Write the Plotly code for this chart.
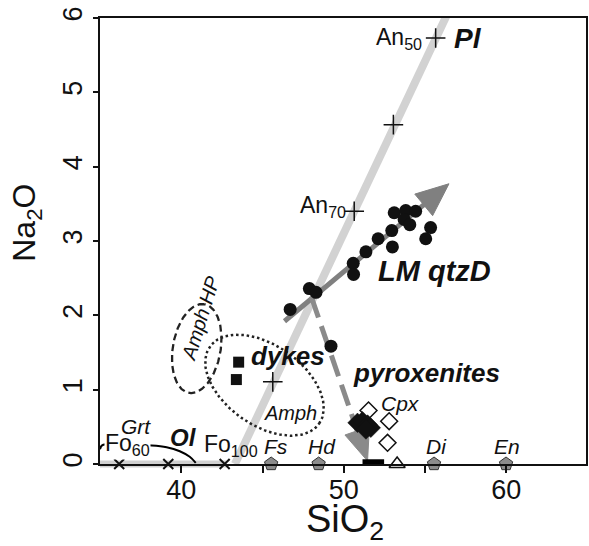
import numpy as np
import plotly.graph_objects as go

# ---------------- data (SiO2 wt%, Na2O wt%) ----------------
# LM quartz-diorite whole-rock analyses
lm_sio2 = [46.70, 47.88, 48.29, 49.21, 50.58, 50.60, 51.36, 52.11, 52.95,
           52.99, 53.10, 53.81, 54.42, 53.71, 54.06, 55.34, 55.04]
lm_na2o = [2.08, 2.36, 2.31, 1.585, 2.70, 2.55, 2.855, 3.03, 3.14,
           2.92, 3.38, 3.41, 3.40, 3.29, 3.22, 3.18, 3.03]

# dykes
dyke_sio2 = [43.53, 43.39]
dyke_na2o = [1.37, 1.136]

# pyroxenites
pyx_sio2 = [50.84, 51.15, 51.46, 51.66, 51.36]
pyx_na2o = [0.554, 0.576, 0.531, 0.487, 0.464]

# clinopyroxene analyses
cpx_sio2 = [51.52, 52.79, 52.69]
cpx_na2o = [0.72, 0.576, 0.285]

# plagioclase join and compositions along it (An50, An60, An70, An90)
pl_line_sio2 = [43.3, 56.9]
pl_line_na2o = [0.0, 6.3]
pl_sio2 = [55.65, 53.05, 50.64, 45.63]
pl_na2o = [5.73, 4.565, 3.40, 1.105]

# olivine join (Fo60 ... Fo100)
ol_line_sio2 = [35.0, 42.8]
ol_sio2 = [36.18, 39.2, 42.67]
ol_na2o = [0.0, 0.0, 0.0]

# garnet field boundary
grt_sio2 = [35.0, 35.15, 36.5, 38.18, 39.10, 39.91, 40.52, 40.89]
grt_na2o = [0.20, 0.255, 0.255, 0.249, 0.226, 0.172, 0.097, 0.016]

# pyroxene end-members (Fs, Hd, Di, En)
em_names = ["Fs", "Hd", "Di", "En"]
em_sio2 = [45.53, 48.45, 55.55, 59.98]
em_na2o = [0.0, 0.0, 0.0, 0.0]

# orthopyroxene range and other phase
opx_sio2 = [51.15, 52.48]
opx_na2o = [0.03, 0.03]
tri_sio2 = [53.28]
tri_na2o = [0.0]

# trends: LM differentiation and pyroxenite accumulation
lm_trend_sio2 = [46.35, 56.47]
lm_trend_na2o = [1.92, 3.77]
pyx_trend_sio2 = [48.0, 51.46]
pyx_trend_na2o = [2.25, 0.04]

# amphibole fields: centre (SiO2, Na2O)
amph_hp_centre = (40.95, 1.553)
amph_centre = (45.12, 1.06)

x_ticks = [40, 50, 60]
x_minor_ticks = [45, 55]
y_ticks = [0, 1, 2, 3, 4, 5, 6]

# ---------------- layout geometry ----------------
W, H = 589, 546
ML, MR, MT, MB = 100, 1, 18, 82
XR = [35, 64.9]
YR = [0, 6]
SX = (W - ML - MR) / (XR[1] - XR[0])   # px per SiO2 unit
SY = (H - MT - MB) / (YR[1] - YR[0])   # px per Na2O unit

FONT = "Arial, Liberation Sans, sans-serif"


def ellipse(centre, a_px, b_px, angle_deg, n=200):
    """Ellipse outline with semi-axes given in screen pixels."""
    t = np.linspace(0, 2 * np.pi, n)
    th = np.radians(angle_deg)
    ex = a_px * np.cos(t)
    ey = b_px * np.sin(t)
    rx = ex * np.cos(th) - ey * np.sin(th)
    ry = ex * np.sin(th) + ey * np.cos(th)
    return centre[0] + rx / SX, centre[1] + ry / SY


def arrow_head(xs, ys, length_px, width_px):
    """Triangle head at the end of a trend, plus the shortened shaft."""
    dx = (xs[1] - xs[0]) * SX
    dy = (ys[1] - ys[0]) * SY
    d = np.hypot(dx, dy)
    ux, uy = dx / d, dy / d
    nx, ny = -uy, ux
    bx = xs[1] - ux * length_px / SX
    by = ys[1] - uy * length_px / SY
    hx = [xs[1], bx + nx * width_px / 2 / SX, bx - nx * width_px / 2 / SX, xs[1]]
    hy = [ys[1], by + ny * width_px / 2 / SY, by - ny * width_px / 2 / SY, ys[1]]
    shaft_x = [xs[0], xs[1] - ux * (length_px * 0.6) / SX]
    shaft_y = [ys[0], ys[1] - uy * (length_px * 0.6) / SY]
    return shaft_x, shaft_y, hx, hy


fig = go.Figure()

# olivine join: a band straddling the Na2O = 0 axis
band_half = 3.5 / (H - MT - MB)
fig.add_shape(type="rect", xref="x", yref="paper",
              x0=ol_line_sio2[0], x1=ol_line_sio2[1], y0=-band_half, y1=band_half,
              fillcolor="#d0d0d0", line=dict(width=0), layer="below")

# plagioclase join
fig.add_trace(go.Scatter(x=pl_line_sio2, y=pl_line_na2o, mode="lines",
                         line=dict(color="#d2d2d2", width=8)))

# garnet boundary
fig.add_trace(go.Scatter(x=grt_sio2, y=grt_na2o, mode="lines",
                         line=dict(color="black", width=2, shape="spline")))

# amphibole fields
ex, ey = ellipse(amph_hp_centre, 45, 24, 80)
fig.add_trace(go.Scatter(x=ex, y=ey, mode="lines",
                         line=dict(color="#222", width=2.3, dash="7px,4px")))
ex, ey = ellipse(amph_centre, 67, 40, -35)
fig.add_trace(go.Scatter(x=ex, y=ey, mode="lines",
                         line=dict(color="#222", width=2.5, dash="2.5px,2.8px")))

# trends
sx_, sy_, hx, hy = arrow_head(lm_trend_sio2, lm_trend_na2o, 33, 28)
fig.add_trace(go.Scatter(x=sx_, y=sy_, mode="lines",
                         line=dict(color="#808080", width=5)))
fig.add_trace(go.Scatter(x=hx, y=hy, mode="lines", fill="toself",
                         fillcolor="#808080", line=dict(color="#808080", width=1)))
sx_, sy_, hx, hy = arrow_head(pyx_trend_sio2, pyx_trend_na2o, 32, 26)
fig.add_trace(go.Scatter(x=sx_, y=sy_, mode="lines",
                         line=dict(color="#8a8a8a", width=5, dash="22px,9px")))
fig.add_trace(go.Scatter(x=hx, y=hy, mode="lines", fill="toself",
                         fillcolor="#8a8a8a", line=dict(color="#8a8a8a", width=1)))

# Opx range
fig.add_trace(go.Scatter(x=opx_sio2, y=opx_na2o, mode="lines",
                         line=dict(color="black", width=5)))

# plagioclase compositions
fig.add_trace(go.Scatter(x=pl_sio2, y=pl_na2o, mode="markers",
                         marker=dict(symbol="cross-thin", size=14,
                                     line=dict(color="#111", width=1.5))))
# olivine compositions
fig.add_trace(go.Scatter(x=ol_sio2, y=ol_na2o, mode="markers", cliponaxis=False,
                         marker=dict(symbol="x-thin", size=10,
                                     line=dict(color="#111", width=2))))
# pyroxene end-members
fig.add_trace(go.Scatter(x=em_sio2, y=em_na2o, mode="markers", cliponaxis=False,
                         marker=dict(symbol="pentagon", size=14, color="#8c8c8c",
                                     line=dict(color="#333", width=1))))
fig.add_trace(go.Scatter(x=tri_sio2, y=tri_na2o, mode="markers", cliponaxis=False,
                         marker=dict(symbol="triangle-up-open", size=14, color="#111",
                                     line=dict(color="#111", width=1.5))))
# clinopyroxene
fig.add_trace(go.Scatter(x=cpx_sio2, y=cpx_na2o, mode="markers",
                         marker=dict(symbol="diamond", size=13, color="white",
                                     line=dict(color="#111", width=1.5))))
# pyroxenites
fig.add_trace(go.Scatter(x=pyx_sio2, y=pyx_na2o, mode="markers",
                         marker=dict(symbol="diamond", size=15, color="#111",
                                     line=dict(color="#111", width=0.5))))
# dykes
fig.add_trace(go.Scatter(x=dyke_sio2, y=dyke_na2o, mode="markers",
                         marker=dict(symbol="square", size=11, color="#111")))
# LM qtzD
fig.add_trace(go.Scatter(x=lm_sio2, y=lm_na2o, mode="markers",
                         marker=dict(symbol="circle", size=13, color="#111")))


def label(text, x, y, size, angle=0, bg=None, **kw):
    fig.add_annotation(text=text, x=x, y=y, xref="x", yref="y", showarrow=False,
                       textangle=angle, xanchor="center", yanchor="middle",
                       font=dict(family=FONT, size=size, color="#111"),
                       bgcolor=bg, borderpad=0, **kw)


label("An<sub>50</sub>", 53.41, 5.72, 23)
label("An<sub>70</sub>", 48.71, 3.464, 23)
label("<b><i>Pl</i></b>", 57.67, 5.727, 28)
label("<b><i>LM qtzD</i></b>", 55.55, 2.59, 29)
label("<b><i>dykes</i></b>", 46.58, 1.457, 26)
label("<b><i>pyroxenites</i></b>", 55.07, 1.224, 26)
label("<i>Cpx</i>", 53.49, 0.82, 21)
label("<i>Opx</i>", 52.40, -0.175, 21)
for name, xv in zip(em_names, [45.85, 48.66, 55.71, 60.06]):
    label(f"<i>{name}</i>", xv, 0.229, 21)
label("Fo<sub>60</sub>", 36.72, 0.256, 23, bg="white")
label("<i>Grt</i>", 37.21, 0.498, 21)
label("<b><i>Ol</i></b>", 40.15, 0.357, 24)
label("Fo<sub>100</sub>", 43.07, 0.249, 23)
label("<i>Amph HP</i>", 41.19, 1.964, 20, angle=-73)
label("<i>Amph</i>", 46.69, 0.682, 20)

# axis titles
fig.add_annotation(text="Na<sub>2</sub>O", x=-0.151, y=0.54, xref="paper", yref="paper",
                   showarrow=False, textangle=-90, xanchor="center", yanchor="middle",
                   font=dict(family=FONT, size=32, color="#111"))
fig.add_annotation(text="SiO<sub>2</sub>", x=0.504, y=-0.13, xref="paper", yref="paper",
                   showarrow=False, xanchor="center", yanchor="middle",
                   font=dict(family=FONT, size=38, color="#111"))

axis_common = dict(showline=True, linewidth=2, linecolor="#111", mirror=True,
                   ticks="outside", tickwidth=1.5, tickcolor="#111",
                   showgrid=False, zeroline=False,
                   tickfont=dict(family=FONT, size=27, color="#111"))
fig.update_xaxes(range=XR, tickvals=x_ticks, ticklen=7, ticklabelstandoff=-6,
                 minor=dict(tickvals=x_minor_ticks, ticks="outside", ticklen=7,
                            tickwidth=1.5, tickcolor="#111", showgrid=False),
                 **axis_common)
fig.update_yaxes(range=YR, tickvals=y_ticks, tickangle=-90, ticklen=5, **axis_common)

fig.update_layout(width=W, height=H, margin=dict(l=ML, r=MR, t=MT, b=MB),
                  plot_bgcolor="white", paper_bgcolor="white",
                  showlegend=False, hovermode=False)

fig.write_html("out.html")
